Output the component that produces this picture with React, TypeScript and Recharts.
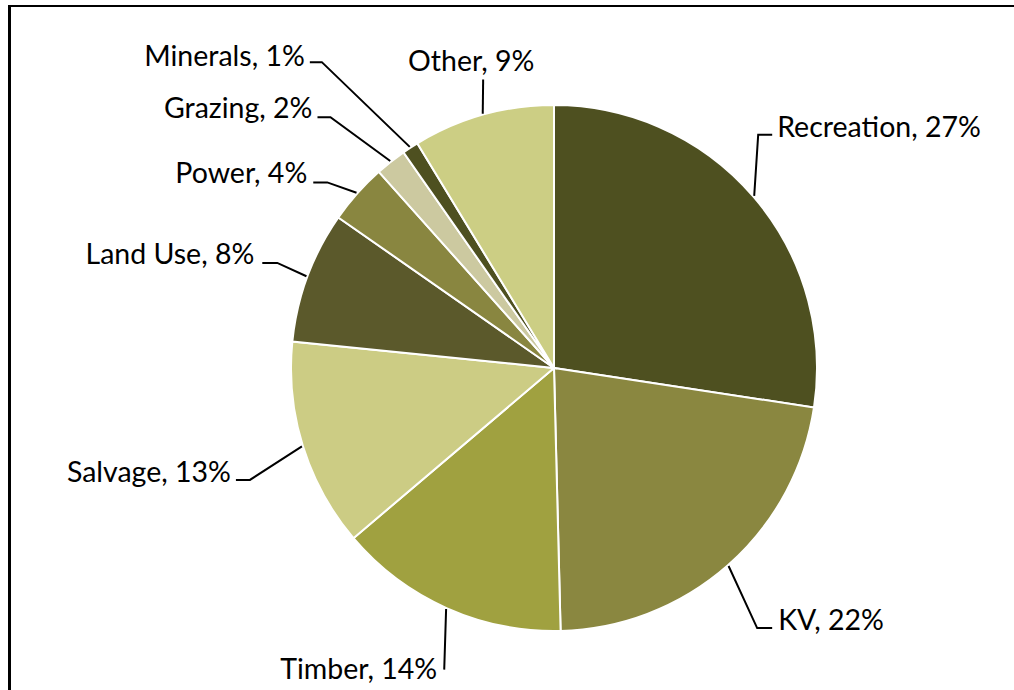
import { PieChart, Pie, Cell } from "recharts";

const CATEGORIES = ["Recreation", "KV", "Timber", "Salvage", "Land Use", "Power", "Grazing", "Minerals", "Other"];
// shares in percent (labels show them rounded)
const SHARES = [27.4, 22.2, 14.2, 12.8, 8.1, 3.7, 1.9, 1.0, 8.7];

const COLORS = [
  "#4E5020", // recreation
  "#8A8740", // kv
  "#A0A140", // timber
  "#CCCC84", // salvage
  "#5B592B", // land use
  "#898640", // power
  "#CCC9A0", // grazing
  "#4E5020", // minerals
  "#CCCE84", // other
];

// hand placed leader lines, like the original (elbow in polar coords around the centre)
const LABEL_LAYOUT = [
  { r: 310, deg: 48.8, tail: 14, anchor: "start", dx: 5, dy: -9 },
  { r: 330, deg: -52, tail: 15, anchor: "start", dx: 6, dy: -9 },
  { r: 321, deg: -110, tail: 0, anchor: "end", dx: -7, dy: -2 },
  { r: 324, deg: -159.8, tail: -14, anchor: "end", dx: -5, dy: -9 },
  { r: 296, deg: 159.2, tail: -15, anchor: "end", dx: -8, dy: -10 },
  { r: 293, deg: 140.7, tail: -14, anchor: "end", dx: -6, dy: -10 },
  { r: 336, deg: 131.7, tail: -13, anchor: "end", dx: -5, dy: -10 },
  { r: 384, deg: 127.2, tail: -12, anchor: "end", dx: -5, dy: -7 },
  { r: 297, deg: 103.8, tail: 0, anchor: "middle", dx: -12, dy: -20 },
];

const RADIAN = Math.PI / 180;
const FONT = "Lato, 'Noto Sans', sans-serif";

const data = CATEGORIES.map((name, i) => ({ name, value: SHARES[i] }));

const renderLabel = (props: any) => {
  const { cx, cy, midAngle, outerRadius, index, name, value } = props;
  const lay = LABEL_LAYOUT[index];
  const sx = cx + (outerRadius + 1) * Math.cos(-midAngle * RADIAN);
  const sy = cy + (outerRadius + 1) * Math.sin(-midAngle * RADIAN);
  const ex = cx + lay.r * Math.cos(-lay.deg * RADIAN);
  const ey = cy + lay.r * Math.sin(-lay.deg * RADIAN);
  const tx = ex + lay.tail;
  return (
    <g key={`lbl-${index}`}>
      <polyline points={`${sx},${sy} ${ex},${ey} ${tx},${ey}`} fill="none" stroke="#000" strokeWidth={2} />
      <text
        x={tx + lay.dx}
        y={ey + lay.dy}
        textAnchor={lay.anchor}
        dominantBaseline="central"
        fontFamily={FONT}
        fontSize={28.5}
        fill="#000"
      >
        {`${name}, ${Math.round(value)}%`}
      </text>
    </g>
  );
};

export default function App() {
  return (
    <div style={{ position: "absolute", left: 0, top: 0, width: 1014, height: 690, background: "#fff", overflow: "hidden" }}>
      <div style={{ position: "absolute", left: 8, top: 5, width: 1006, height: 2, background: "#000" }} />
      <div style={{ position: "absolute", left: 8, top: 5, width: 3, height: 685, background: "#000" }} />
      <PieChart
        width={1014}
        height={690}
        margin={{ top: 0, right: 0, bottom: 0, left: 0 }}
        style={{ position: "absolute", left: 0, top: 0 }}
      >
        <Pie
          data={data}
          dataKey="value"
          nameKey="name"
          cx={554}
          cy={368}
          outerRadius={263}
          startAngle={90}
          endAngle={-270}
          stroke="#fff"
          strokeWidth={2}
          label={renderLabel}
          labelLine={false}
          isAnimationActive={false}
        >
          {data.map((d, i) => (
            <Cell key={d.name} fill={COLORS[i]} />
          ))}
        </Pie>
      </PieChart>
    </div>
  );
}
